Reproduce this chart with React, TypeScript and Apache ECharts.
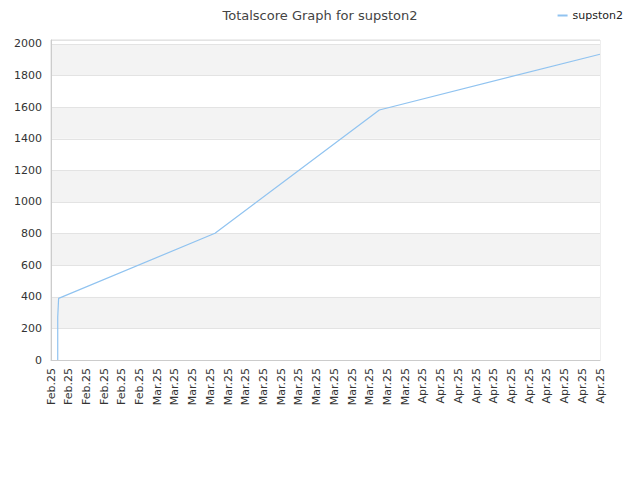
import React, { useEffect, useRef } from "react";
import * as echarts from "echarts";

const xLabels: string[] = [
  ...Array(6).fill("Feb.25"),
  ...Array(15).fill("Mar.25"),
  ...Array(11).fill("Apr.25"),
];
const seriesName = "supston2";
const pointIndex: number[] = [0.38, 0.38, 0.43, 9.26, 18.54, 31];
const pointScore: number[] = [0, 270, 390, 802, 1582, 1935];

export default function App() {
  const ref = useRef<HTMLDivElement>(null);
  useEffect(() => {
    document.body.style.margin = "0";
    const chart = echarts.init(ref.current!, null, { renderer: "svg" });
    const font = "DejaVu Sans";
    chart.setOption({
      animation: false,
      textStyle: { fontFamily: font },
      title: {
        text: "Totalscore Graph for " + seriesName,
        left: "center",
        top: 4,
        textStyle: { fontSize: 13, fontWeight: "normal", color: "#444", fontFamily: font },
      },
      legend: {
        right: 12,
        top: 5,
        itemWidth: 10,
        itemHeight: 2,
        itemGap: 8,
        icon: "rect",
        textStyle: { fontSize: 11, color: "#222", fontFamily: font },
        data: [seriesName],
      },
      grid: {
        left: 51,
        right: 40,
        top: 40,
        bottom: 120,
        show: true,
        borderColor: "#ddd",
        borderWidth: 1,
      },
      xAxis: {
        type: "value",
        min: 0,
        max: xLabels.length - 1,
        interval: 1,
        axisLine: { show: true, lineStyle: { color: "#ccc" } },
        axisTick: { show: false },
        splitLine: { show: false },
        axisLabel: {
          rotate: 90,
          fontSize: 11,
          color: "#333",
          margin: 8,
          fontFamily: font,
          showMinLabel: true,
          showMaxLabel: true,
          formatter: (v: number) => xLabels[Math.round(v)] ?? "",
        },
      },
      yAxis: {
        type: "value",
        min: 0,
        max: 2025,
        interval: 200,
        axisLine: { show: true, lineStyle: { color: "#ccc" } },
        axisTick: { show: false },
        splitLine: { show: true, lineStyle: { color: "#e3e3e3" } },
        splitArea: { show: true, areaStyle: { color: ["#ffffff", "#f3f3f3"] } },
        axisLabel: {
          fontSize: 11,
          color: "#333",
          margin: 9,
          fontFamily: font,
          showMaxLabel: false,
          formatter: (v: number) => (v > 2000 ? "" : String(v)),
        },
      },
      series: [
        {
          name: seriesName,
          type: "line",
          showSymbol: false,
          symbol: "none",
          lineStyle: { color: "#90c3f0", width: 1.2 },
          itemStyle: { color: "#90c3f0" },
          data: pointIndex.map((x, i) => [x, pointScore[i]]),
        },
      ],
    });
    return () => chart.dispose();
  }, []);
  return <div ref={ref} style={{ width: 640, height: 480 }} />;
}
